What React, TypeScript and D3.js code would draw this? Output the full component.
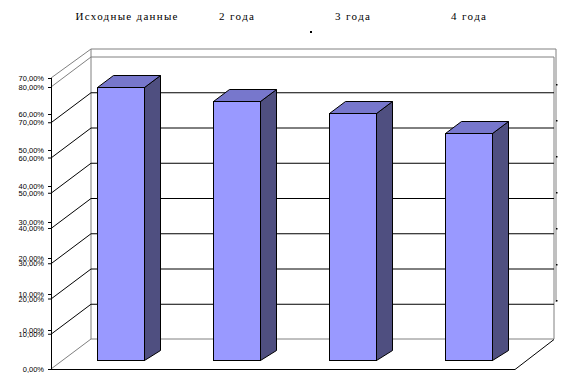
import React, { useEffect, useRef } from 'react';
import * as d3 from 'd3';

const categories = ['Исходные данные', '2 года', '3 года', '4 года'];
const values = [77.4, 73.6, 70.0, 64.4];
const mainTicks = [0, 10, 20, 30, 40, 50, 60, 70, 80];
const extraTicks = [0, 10, 20, 30, 40, 50, 60, 70];
const rightTicks = [10, 20, 30, 40, 50, 60, 70];
const labelWidths = [102, 35, 35, 35];

const fmt = (v: number) => `${v.toFixed(2).replace('.', ',')}%`;

function App() {
  const ref = useRef<SVGSVGElement>(null);

  useEffect(() => {
    if (!ref.current) return;
    const svg = d3.select(ref.current);
    svg.selectAll('*').remove();

    // depth offset of the back wall
    const dx = 40;
    const dy = -30;
    const axisX = 51;
    const backX = axisX + dx;
    const rightX = 554;

    const yFront = d3.scaleLinear().domain([0, 80]).range([369, 87]);
    const yBack = d3.scaleLinear().domain([0, 80]).range([369 + dy, 87 + dy]);
    const yBar = d3.scaleLinear().domain([0, 80]).range([360, 78]);
    const yExtra = d3.scaleLinear().domain([0, 70]).range([330, 78]);
    const yRight = d3.scaleLinear().domain([0, 70]).range([336, 84]);

    const x = d3.scaleBand<string>()
      .domain(categories)
      .range([62.5, 526.5])
      .paddingInner(0.595)
      .paddingOuter(0.2975);

    const grey = '#808080';

    // outer frame (shifted)
    svg.append('path')
      .attr('d', `M${axisX},${yExtra(70)}L${backX},49L556,49L556,302`)
      .attr('fill', 'none')
      .attr('stroke', grey);

    // back wall + floor edges
    svg.append('path')
      .attr('d', `M${axisX},${yFront(80)}L${backX},${yBack(80)}L${rightX},${yBack(80)}L${rightX},${yBack(0)}L${backX},${yBack(0)}L${axisX},${yFront(0)}`)
      .attr('fill', 'none')
      .attr('stroke', grey);
    svg.append('line')
      .attr('x1', backX).attr('x2', backX)
      .attr('y1', 49).attr('y2', yBack(0))
      .attr('stroke', grey);

    // gridlines
    const grid = mainTicks.filter((t) => t > 0 && t < 80);
    svg.append('g')
      .selectAll('path')
      .data(grid)
      .enter()
      .append('path')
      .attr('d', (d) => `M${axisX},${yFront(d) + 0.5}L${backX},${yBack(d) + 0.5}L${rightX},${yBack(d) + 0.5}`)
      .attr('fill', 'none')
      .attr('stroke', '#000');

    // floor front
    svg.append('path')
      .attr('d', `M${axisX},${yFront(0) + 0.5}L515,${yFront(0) + 0.5}L${rightX},${yBack(0) + 0.5}`)
      .attr('fill', 'none')
      .attr('stroke', '#000');

    // left axis
    svg.append('line')
      .attr('x1', axisX + 0.5).attr('x2', axisX + 0.5)
      .attr('y1', yExtra(70)).attr('y2', yFront(0))
      .attr('stroke', '#000');

    const tickFont = '"Liberation Sans", Arial, sans-serif';
    svg.append('g')
      .selectAll('g')
      .data(mainTicks)
      .enter()
      .append('g')
      .each(function (d) {
        const g = d3.select(this);
        g.append('line')
          .attr('x1', axisX - 3).attr('x2', axisX)
          .attr('y1', yFront(d) + 0.5).attr('y2', yFront(d) + 0.5)
          .attr('stroke', '#000');
        g.append('text')
          .attr('x', 44).attr('y', yFront(d) + 3)
          .attr('text-anchor', 'end')
          .style('font-family', tickFont)
          .style('font-size', '7.5px')
          .text(fmt(d));
      });
    svg.append('g')
      .selectAll('g')
      .data(extraTicks)
      .enter()
      .append('g')
      .each(function (d) {
        const g = d3.select(this);
        g.append('line')
          .attr('x1', axisX - 3).attr('x2', axisX)
          .attr('y1', yExtra(d) + 0.5).attr('y2', yExtra(d) + 0.5)
          .attr('stroke', '#000');
        g.append('text')
          .attr('x', 44).attr('y', yExtra(d) + 3)
          .attr('text-anchor', 'end')
          .style('font-family', tickFont)
          .style('font-size', '7.5px')
          .text(fmt(d));
      });

    // right tiny ticks
    svg.append('g')
      .selectAll('rect')
      .data(rightTicks)
      .enter()
      .append('rect')
      .attr('x', 556)
      .attr('y', (d) => yRight(d))
      .attr('width', 1.5)
      .attr('height', 1.5)
      .attr('fill', '#000');

    // bars
    const bdx = 16;
    const bdy = -12;
    const bars = svg.append('g')
      .selectAll('g')
      .data(values)
      .enter()
      .append('g');
    bars.each(function (v, i) {
      const g = d3.select(this);
      const x0 = Math.round(x(categories[i]) as number) + 0.5;
      const x1 = x0 + Math.round(x.bandwidth());
      const yt = Math.round(yBar(v)) + 0.5;
      const yb = yBar(0) + 0.5;
      g.append('path')
        .attr('d', `M${x1},${yt}L${x1 + bdx},${yt + bdy}L${x1 + bdx},${yb - 10}L${x1},${yb}Z`)
        .attr('fill', '#4f4f80')
        .attr('stroke', '#000');
      g.append('path')
        .attr('d', `M${x0},${yt}L${x0 + bdx},${yt + bdy}L${x1 + bdx},${yt + bdy}L${x1},${yt}Z`)
        .attr('fill', '#7777cc')
        .attr('stroke', '#000');
      g.append('rect')
        .attr('x', x0).attr('y', yt)
        .attr('width', x1 - x0).attr('height', yb - yt)
        .attr('fill', '#9999ff')
        .attr('stroke', '#000');
    });

    // category labels on top
    svg.append('g')
      .selectAll('text')
      .data(categories)
      .enter()
      .append('text')
      .attr('x', (d, i) => (x(d) as number) + x.bandwidth() / 2 + (i === 0 ? 6 : 0))
      .attr('y', 20)
      .attr('text-anchor', 'middle')
      .attr('textLength', (d, i) => labelWidths[i])
      .attr('lengthAdjust', 'spacing')
      .style('font-family', '"Liberation Serif", "Times New Roman", serif')
      .style('font-size', '11px')
      .text((d) => d);

    svg.append('rect')
      .attr('x', 310).attr('y', 31)
      .attr('width', 2).attr('height', 2)
      .attr('fill', '#000');
  }, []);

  return (
    <svg
      ref={ref}
      width={586}
      height={392}
      style={{ position: 'absolute', left: 0, top: 0, background: '#fff' }}
    />
  );
}

export default App;
